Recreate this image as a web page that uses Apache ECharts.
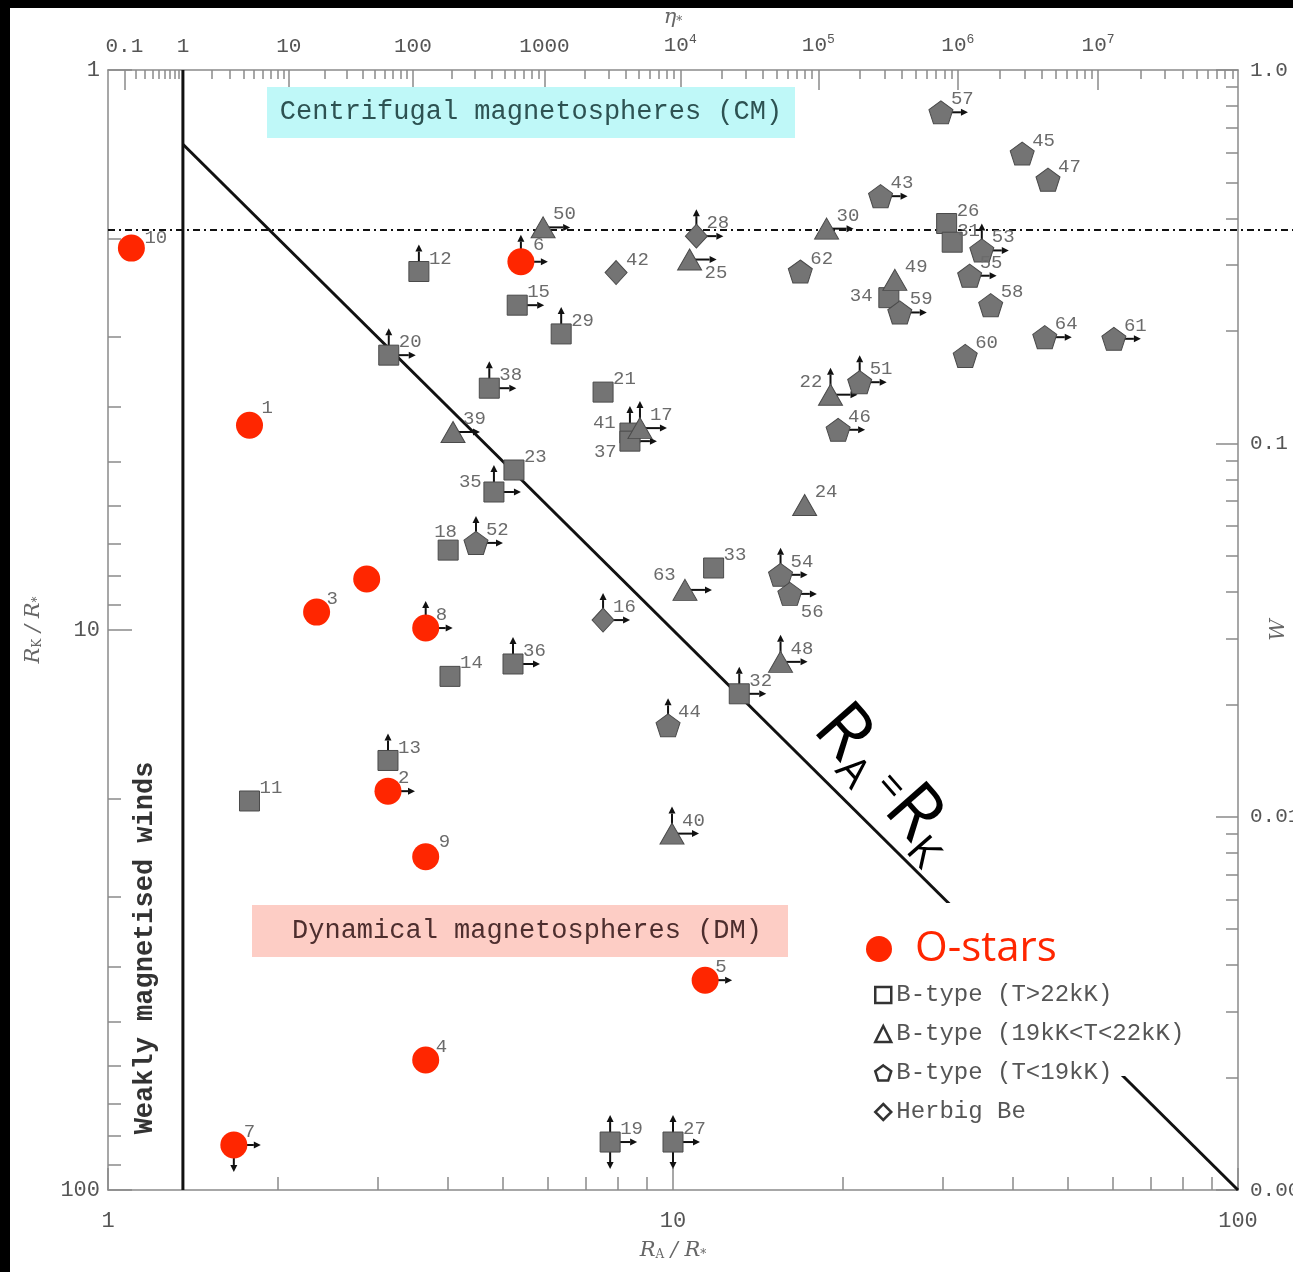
<!DOCTYPE html>
<html><head><meta charset="utf-8">
<script src="https://cdn.jsdelivr.net/npm/echarts@6/dist/echarts.min.js"></script>
<style>html,body{margin:0;padding:0;background:#fff;}#c{width:1293px;height:1272px;}</style>
</head><body><div id="c"></div><script>
// ---------------- DATA ----------------
// O-stars
const oId   = ['10','1','3','','8','2','9','6','5','4','7'];
const oRA   = [1.10,1.78,2.34,2.87,3.65,3.13,3.65,5.38,11.4,3.65,1.67];
const oRK   = [2.08,4.31,9.29,8.11,9.92,19.4,25.4,2.20,42.2,58.6,83.1];
const oLim  = ['','','','','ur','r','','ur','r','','rd'];
// B-type (T>22kK) squares
const sqId  = ['12','20','15','29','38','21','41','37','23','35','18','14','36','13','11','33','32','19','27','26','31','34'];
const sqRA  = [3.55,3.14,5.30,6.34,4.73,7.52,8.39,8.39,5.23,4.82,4.00,4.03,5.21,3.13,1.78,11.8,13.1,7.74,10.0,30.5,31.2,24.1];
const sqRK  = [2.29,3.23,2.63,2.96,3.70,3.76,4.45,4.60,5.18,5.67,7.20,12.1,11.5,17.1,20.2,7.75,13.0,82.1,82.1,1.88,2.03,2.55];
const sqLim = ['u','ur','r','u','ur','','u','r','','ur','','','ur','u','','','ur','urd','urd','','',''];
// B-type (19kK<T<22kK) triangles
const trId  = ['50','25','30','39','17','49','22','24','63','48','40'];
const trRA  = [5.89,10.7,18.7,4.08,8.74,24.7,19.0,17.1,10.5,15.5,9.96];
const trRK  = [1.91,2.18,1.92,4.43,4.36,2.37,3.80,5.98,8.48,11.4,23.1];
const trLim = ['r','r','r','r','ur','','ur','','r','ur','ur'];
// B-type (T<19kK) pentagons
const peId  = ['57','45','47','43','53','55','62','59','58','64','61','60','51','46','52','54','56','44'];
const peRA  = [29.8,41.5,46.1,23.3,35.2,33.5,16.8,25.2,36.5,45.5,60.3,32.9,21.4,19.6,4.48,15.5,16.1,9.80];
const peRK  = [1.19,1.41,1.57,1.68,2.10,2.33,2.29,2.71,2.63,3.00,3.02,3.24,3.61,4.39,6.99,7.97,8.62,14.8];
const peLim = ['r','','','r','ur','r','','r','','r','r','','ur','r','ur','ur','r','u'];
// Herbig Be diamonds
const diId  = ['42','28','16'];
const diRA  = [7.93,11.0,7.52];
const diRK  = [2.30,1.98,9.60];
const diLim = ['','ur','ur'];

// reference lines
const weakLimitRA = 1.357;          // eta* = 1
const diagEnds = [1.357, 100];      // R_A = R_K
const dashedRK = 1.93;

// tick values
const xMajor = [1, 10, 100];
const xMajorLabels = ['1', '10', '100'];
const xMinor = [2,3,4,5,6,7,8,9,20,30,40,50,60,70,80,90];
const etaMajor = [0.1, 1, 10, 100, 1000, 1e4, 1e5, 1e6, 1e7];
const etaLabels = ['0.1','1','10','100','1000','10{sup|4}','10{sup|5}','10{sup|6}','10{sup|7}'];
const etaMinorMult = [2,3,4,5,6,7,8,9];
const etaMinorDecades = [0.1,1,10,100,1000,1e4,1e5,1e6,1e7];
const wMajor = [1, 0.1, 0.01, 0.001];
const wLabels = ['1.0', '0.1', '0.01', '0.001'];
const wMinorMult = [2,3,4,5,6,7,8,9];
const wMinorDecades = [0.1, 0.01, 0.001];

// ---------------- HELPERS ----------------
const L = Math.log10;
const etaToRA = e => 0.3 + Math.pow(e + 0.25, 0.25);
const wToPos = w => -2 / 3 * L(w);     // log10(R_K) for given W
function findLabel(v, pos, labels) {
  for (let i = 0; i < pos.length; i++) if (Math.abs(pos[i] - v) < 1e-6) return labels[i];
  return '';
}
const xMajPos = xMajor.map(L);
const xMinPos = xMinor.map(L);
const topMajPos = etaMajor.map(e => L(etaToRA(e)));
const topMinPos = [];
etaMinorDecades.forEach(d => etaMinorMult.forEach(m => { const p = L(etaToRA(m * d)); if (p < 2) topMinPos.push(p); }));
const rMajPos = wMajor.map(wToPos);
const rMinPos = [];
wMinorDecades.forEach(d => wMinorMult.forEach(m => { const p = wToPos(m * d); if (p > 0 && p < 2) rMinPos.push(p); }));

const gray = '#8a8a8a';
const tickFont = 'Liberation Mono';
const labelColor = '#555';

function axis(o) {
  const a = {
    type: 'value', min: 0, max: 2, position: o.position, inverse: !!o.inverse,
    axisLine: { show: !!o.line, onZero: false, lineStyle: { color: gray, width: 1.5 } },
    axisTick: { show: true, inside: true, length: o.tickLen, customValues: o.ticks, lineStyle: { color: gray, width: 1.5 } },
    axisLabel: o.labels ? {
      show: true, customValues: o.ticks, margin: o.margin,
      formatter: v => findLabel(v, o.ticks, o.labels),
      fontFamily: tickFont, fontSize: o.fontSize || 22, color: labelColor,
      rich: { sup: { fontFamily: tickFont, fontSize: 13, color: labelColor, verticalAlign: 'bottom', padding: [0, 0, 11, 0] } },
      hideOverlap: false
    } : { show: false },
    splitLine: { show: false }
  };
  if (o.name) Object.assign(a, { name: o.name, nameLocation: 'middle', nameGap: o.nameGap, nameTextStyle: o.nameStyle, nameMoveOverlap: false });
  return a;
}
const nameRich = {
  i: { fontFamily: 'DejaVu Serif', fontStyle: 'italic', fontSize: 21, color: '#666' },
  s: { fontFamily: 'DejaVu Serif', fontSize: 12, color: '#666', verticalAlign: 'bottom' },
  t: { fontFamily: 'DejaVu Serif', fontStyle: 'italic', fontSize: 21, color: '#666' }
};

// label offsets (styling)
const labelOffsetDefault = [10, -13];
const labelOffsetExc = {
  '41': [-37, -10], '37': [-36, 11], '35': [-35, -10], '18': [-14, -18], '22': [-31, -13],
  '63': [-32, -15], '34': [-39, -2], '25': [15, 13], '56': [11, 18], '1': [12, -17], '6': [12, -17],
  '31': [5, -11], '10': [13, -10], '9': [13, -15]
};

function scatter(name, ids, ras, rks, symbol, size, color, border, z) {
  return {
    type: 'scatter', name, symbol, symbolSize: size, z, xAxisIndex: 0, yAxisIndex: 0, silent: true,
    itemStyle: { color, borderColor: border, borderWidth: border ? 1 : 0, opacity: 1 },
    data: ids.map((id, i) => ({
      value: [L(ras[i]), L(rks[i])], name: id,
      label: { offset: labelOffsetExc[id] || labelOffsetDefault }
    })),
    label: {
      show: true, position: 'inside', align: 'left', verticalAlign: 'middle',
      formatter: p => p.name, fontFamily: tickFont, fontSize: 19, color: '#6b6b6b'
    },
    emphasis: { disabled: true }
  };
}

// arrows (limits)
const arrowItems = [];
[[oRA, oRK, oLim], [sqRA, sqRK, sqLim], [trRA, trRK, trLim], [peRA, peRK, peLim], [diRA, diRK, diLim]].forEach(([ra, rk, lim]) => {
  lim.forEach((s, i) => { for (const ch of s) arrowItems.push([L(ra[i]), L(rk[i]), ch === 'r' ? 0 : ch === 'u' ? 1 : 2]); });
});

const pentagon = 'path://M0,-1 L0.951,-0.309 L0.588,0.809 L-0.588,0.809 L-0.951,-0.309 Z';
const grayFill = '#747474', grayEdge = '#4a4a4a', red = '#ff2600';

const chart = echarts.init(document.getElementById('c'));
chart.setOption({
  animation: false,
  backgroundColor: '#fff',
  grid: { left: 108, right: 55, top: 70, bottom: 82, containLabel: false, outerBoundsMode: 'none' },
  xAxis: [
    axis({ position: 'bottom', line: true, tickLen: 22, ticks: xMajPos, labels: xMajorLabels, margin: 20,
      name: '{i|R}{s|A}{t| / R}{s|*}', nameGap: 50, nameStyle: { rich: nameRich } }),
    axis({ position: 'bottom', line: false, tickLen: 13, ticks: xMinPos }),
    axis({ position: 'top', line: true, tickLen: 20, ticks: topMajPos, labels: etaLabels, margin: 13, fontSize: 21,
      name: '{t|η}{s|*}', nameGap: 42, nameStyle: { rich: nameRich } }),
    axis({ position: 'top', line: false, tickLen: 9, ticks: topMinPos })
  ],
  yAxis: [
    axis({ position: 'left', inverse: true, line: true, tickLen: 24, ticks: xMajPos, labels: xMajorLabels, margin: 8,
      name: '{i|R}{s|K}{t| / R}{s|*}', nameGap: 64, nameStyle: { rich: nameRich } }),
    axis({ position: 'left', inverse: true, line: false, tickLen: 13, ticks: xMinPos }),
    axis({ position: 'right', inverse: true, line: true, tickLen: 22, ticks: rMajPos, labels: wLabels, margin: 12, fontSize: 21,
      name: '{i|W}', nameGap: 30, nameStyle: { rich: nameRich } }),
    axis({ position: 'right', inverse: true, line: false, tickLen: 12, ticks: rMinPos })
  ],
  legend: [
    {
      data: [{ name: 'O-stars', icon: 'circle' }], left: 866, top: 928, padding: 0, selectedMode: false,
      itemWidth: 26, itemHeight: 26, z: 6,
      textStyle: { color: red, fontSize: 42, fontFamily: 'Open Sans', padding: [0, 0, 0, 18] }
    },
    {
      data: [
        { name: 'B-type (T>22kK)', icon: 'rect' },
        { name: 'B-type (19kK<T<22kK)', icon: 'triangle' },
        { name: 'B-type (T<19kK)', icon: pentagon },
        { name: 'Herbig Be', icon: 'diamond' }
      ],
      orient: 'vertical', left: 874, top: 982, padding: 0, selectedMode: false, itemGap: 13,
      itemWidth: 16, itemHeight: 16, z: 6,
      itemStyle: { color: '#fff', borderColor: '#333', borderWidth: 2.5 },
      textStyle: { color: '#555', fontSize: 24, fontFamily: tickFont, lineHeight: 26 }
    }
  ],
  series: [
    { type: 'line', name: 'weak', xAxisIndex: 0, yAxisIndex: 0, silent: true, symbol: 'none', z: 2,
      data: [[L(weakLimitRA), 0], [L(weakLimitRA), 2]], lineStyle: { color: '#111', width: 3 } },
    { type: 'line', name: 'diag', xAxisIndex: 0, yAxisIndex: 0, silent: true, symbol: 'none', z: 2,
      data: diagEnds.map(v => [L(v), L(v)]), lineStyle: { color: '#111', width: 3 } },
    { type: 'custom', name: 'dash', xAxisIndex: 0, yAxisIndex: 0, silent: true, z: 2, clip: false,
      data: [[0, L(dashedRK)]],
      renderItem: (p, api) => {
        const s = api.coord([api.value(0), api.value(1)]);
        return { type: 'line', shape: { x1: s[0], y1: s[1], x2: api.getWidth(), y2: s[1] },
          style: { stroke: '#111', lineWidth: 2, lineDash: [7, 4, 2, 4] } };
      } },
    { type: 'custom', name: 'arrows', xAxisIndex: 0, yAxisIndex: 0, silent: true, z: 3,
      data: arrowItems,
      renderItem: (p, api) => {
        const c = api.coord([api.value(0), api.value(1)]);
        const d = api.value(2);
        const len = 27, head = 7, hw = 3.5;
        const dx = d === 0 ? 1 : 0, dy = d === 1 ? -1 : d === 2 ? 1 : 0;
        const ex = c[0] + dx * len, ey = c[1] + dy * len;
        const bx = ex - dx * head, by = ey - dy * head;
        const px = -dy, py = dx;
        return { type: 'group', children: [
          { type: 'line', shape: { x1: c[0], y1: c[1], x2: bx, y2: by }, style: { stroke: '#111', lineWidth: 2 } },
          { type: 'polygon', shape: { points: [[ex, ey], [bx + px * hw, by + py * hw], [bx - px * hw, by - py * hw]] }, style: { fill: '#111' } }
        ] };
      } },
    scatter('B-type (T>22kK)', sqId, sqRA, sqRK, 'rect', 20, grayFill, grayEdge, 4),
    scatter('B-type (19kK<T<22kK)', trId, trRA, trRK, 'triangle', [24, 21], grayFill, grayEdge, 4),
    scatter('B-type (T<19kK)', peId, peRA, peRK, pentagon, [24, 23], grayFill, grayEdge, 4),
    scatter('Herbig Be', diId, diRA, diRK, 'diamond', [22, 24], grayFill, grayEdge, 4),
    scatter('O-stars', oId, oRA, oRK, 'circle', 27, red, null, 5)
  ],
  graphic: [
    { type: 'rect', z: 3, shape: { x: 850, y: 903, width: 350, height: 173 }, style: { fill: '#fff' } },
    { type: 'rect', z: 1, shape: { x: 267, y: 87, width: 528, height: 51 }, style: { fill: '#bff8f8' } },
    { type: 'text', z: 5, x: 531, y: 112, style: { text: 'Centrifugal magnetospheres (CM)', align: 'center', verticalAlign: 'middle',
      font: '27px "Liberation Mono"', fill: '#2d5252' } },
    { type: 'rect', z: 1, shape: { x: 252, y: 905, width: 536, height: 52 }, style: { fill: '#fdcdc5' } },
    { type: 'text', z: 5, x: 527, y: 931, style: { text: 'Dynamical magnetospheres (DM)', align: 'center', verticalAlign: 'middle',
      font: '27px "Liberation Mono"', fill: '#4d2e2e' } },
    { type: 'text', z: 5, x: 145, y: 948, rotation: Math.PI / 2, style: { text: 'Weakly magnetised winds', align: 'center', verticalAlign: 'middle',
      font: 'bold 27px "Liberation Mono"', fill: '#333' } },
    { type: 'text', z: 5, x: 886, y: 783, rotation: -0.85, style: {
      text: '{b|R}{s|A}{e| =}{b|R}{s|K}', align: 'center', verticalAlign: 'middle',
      rich: {
        b: { fontSize: 74, fontFamily: 'Open Sans', fill: '#000', lineHeight: 80 },
        s: { fontSize: 42, fontFamily: 'Open Sans', fill: '#000', verticalAlign: 'bottom', lineHeight: 46 },
        e: { fontSize: 42, fontFamily: 'Open Sans', fill: '#000', lineHeight: 56 }
      } } },
    { type: 'rect', z: 100, shape: { x: 0, y: 0, width: 1293, height: 8 }, style: { fill: '#000' } },
    { type: 'rect', z: 100, shape: { x: 0, y: 0, width: 10, height: 1272 }, style: { fill: '#000' } }
  ]
});
</script></body></html>
